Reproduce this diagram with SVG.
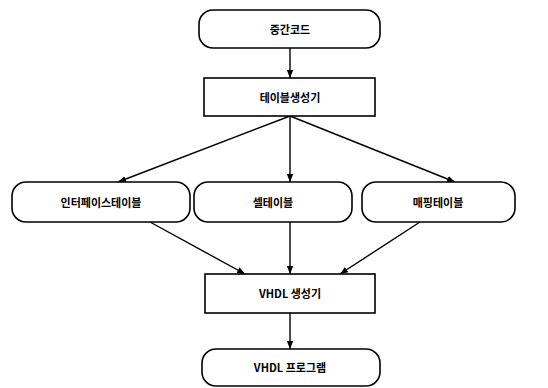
<svg xmlns="http://www.w3.org/2000/svg" width="548" height="388" viewBox="0 0 548 388">
<style>
.box{fill:#fff;stroke:#000;stroke-width:1.6}
.t{font-family:"Noto Sans CJK KR","Noto Sans",sans-serif;font-size:11px;font-weight:bold;text-anchor:middle;dominant-baseline:central;fill:#000}
.c{stroke:#000;stroke-width:1.4;fill:none;marker-end:url(#ah)}
</style>
<defs>
<marker id="ah" viewBox="0 0 10 10" refX="10" refY="5" markerWidth="8" markerHeight="8" markerUnits="userSpaceOnUse" orient="auto">
<path d="M0,1 L10,5 L0,9 Z" fill="#000"/>
</marker>
</defs>
<rect width="548" height="388" fill="#fff"/>
<g id="connectors">
<line class="c" x1="290" y1="48" x2="290" y2="78"/>
<line class="c" x1="290" y1="116" x2="118" y2="182"/>
<line class="c" x1="290" y1="116" x2="290" y2="182"/>
<line class="c" x1="290" y1="116" x2="455" y2="182"/>
<line class="c" x1="150" y1="222" x2="245" y2="274"/>
<line class="c" x1="290" y1="222" x2="290" y2="274"/>
<line class="c" x1="420" y1="222" x2="340" y2="274"/>
<line class="c" x1="290" y1="313" x2="290" y2="349"/>
</g>
<g id="n1"><rect class="box" x="199" y="10" width="181" height="38" rx="14"/><text class="t" x="290" y="29">중간코드</text></g>
<g id="n2"><rect class="box" x="204" y="78" width="171" height="38"/><text class="t" x="290" y="97">테이블생성기</text></g>
<g id="n3"><rect class="box" x="12" y="182" width="178" height="40" rx="14"/><text class="t" x="101" y="202">인터페이스테이블</text></g>
<g id="n4"><rect class="box" x="194" y="182" width="158" height="40" rx="14"/><text class="t" x="273" y="202">셀테이블</text></g>
<g id="n5"><rect class="box" x="362" y="182" width="153" height="40" rx="14"/><text class="t" x="438" y="202">매핑테이블</text></g>
<g id="n6"><rect class="box" x="205" y="274" width="170" height="39"/><text class="t" x="290" y="293">VHDL 생성기</text></g>
<g id="n7"><rect class="box" x="202" y="349" width="178" height="37" rx="14"/><text class="t" x="290" y="367">VHDL 프로그램</text></g>
</svg>
